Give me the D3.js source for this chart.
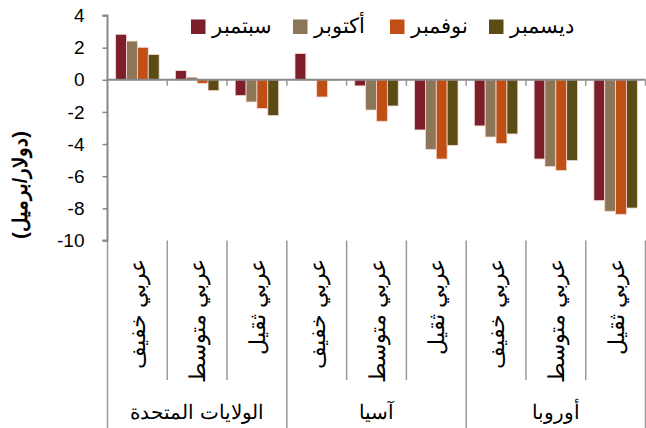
<!DOCTYPE html>
<html><head><meta charset="utf-8">
<script src="https://cdn.jsdelivr.net/npm/d3@7"></script>
<style>body{margin:0;background:#fff}svg{display:block}text{font-family:"Liberation Sans",Arial,sans-serif}</style>
</head><body><svg id="c" width="646" height="428"></svg>
<script>
const categories = ["عربي خفيف","عربي متوسط","عربي ثقيل","عربي خفيف","عربي متوسط","عربي ثقيل","عربي خفيف","عربي متوسط","عربي ثقيل"];
const regions = ["الولايات المتحدة","آسيا","أوروبا"];
const seriesNames = ["سبتمبر","أكتوبر","نوفمبر","ديسمبر"];
const sep = [2.83,0.57,-0.98,1.63,-0.38,-3.12,-2.87,-4.93,-7.52];
const oct = [2.41,0.16,-1.38,-0.05,-1.88,-4.33,-3.56,-5.40,-8.18];
const nov = [2.02,-0.22,-1.79,-1.07,-2.58,-4.93,-3.97,-5.65,-8.37];
const dec = [1.57,-0.67,-2.23,-0.05,-1.63,-4.08,-3.37,-5.03,-7.98];
const yTicks = [4,2,0,-2,-4,-6,-8,-10];
const colors = ["#7D1F2B","#8B7657","#C04F15","#5B4C16"];
const series = [sep,oct,nov,dec];

const svg = d3.select("#c");
const L = 107.5, R = 645.5, T = 15.5, B = 240.5;
const x = d3.scaleBand().domain(d3.range(categories.length)).range([L,R]);
const y = d3.scaleLinear().domain([-10,4]).range([B,T]);

const bw = x.bandwidth()/(4+1.5);
const g = svg.append("g");
series.forEach((s,si)=>{
  g.selectAll(null).data(s).enter().append("rect")
    .attr("x",(d,i)=>x(i)+bw*0.75+si*bw)
    .attr("width",bw)
    .attr("y",d=>Math.min(y(d),y(0)))
    .attr("height",d=>Math.abs(y(d)-y(0)))
    .attr("fill",colors[si])
    .attr("stroke","#f3d9d0").attr("stroke-width",0.8);
});

// y axis
const ya = d3.axisLeft(y).tickValues(yTicks).tickSize(5).tickPadding(18).tickFormat(d=>String(d));
const yg = svg.append("g").attr("transform",`translate(${L},0)`).call(ya);
yg.select(".domain").attr("stroke","#888").attr("stroke-width",2).attr("d",`M-5,${T}H0V${B}H-5`);
yg.selectAll(".tick line").attr("stroke","#888").attr("stroke-width",1.5);
yg.selectAll(".tick text").attr("font-size",19).attr("fill","#000").style("font-family","Liberation Sans, Arial, sans-serif");

// zero line
svg.append("line").attr("x1",L).attr("x2",R).attr("y1",y(0)).attr("y2",y(0)).attr("stroke","#888").attr("stroke-width",2);
d3.range(1,categories.length+1).forEach(i=>{
  const xx = i<categories.length ? x(i) : R;
  svg.append("line").attr("x1",xx).attr("x2",xx).attr("y1",y(0)).attr("y2",y(0)+6).attr("stroke","#999").attr("stroke-width",1.5);
});

// category separators
d3.range(0,categories.length+1).forEach(i=>{
  const xx = i<categories.length ? x(i) : R;
  const isGroup = i%3===0;
  svg.append("line").attr("x1",xx).attr("x2",xx).attr("y1",B).attr("y2",isGroup?428:380).attr("stroke","#999").attr("stroke-width",1.5);
});

// category labels
svg.selectAll(null).data(categories).enter().append("text")
  .attr("transform",(d,i)=>`translate(${x(i)+x.bandwidth()/2+8},259) rotate(-90)`)
  .attr("text-anchor","end")
  .attr("font-size",22).attr("fill","#000")
  .text(d=>d);

// region labels
svg.selectAll(null).data(regions).enter().append("text")
  .attr("x",(d,i)=>(x(i*3)+(i*3+3<categories.length?x(i*3+3):R))/2)
  .attr("y",419).attr("text-anchor","middle").attr("font-size",19.5).attr("fill","#000")
  .text(d=>d);

// y title
svg.append("text").attr("transform",`translate(27,185) rotate(-90)`).attr("text-anchor","middle")
  .attr("font-size",20).attr("font-weight","bold").attr("fill","#000").text("(دولار/برميل)");

// legend
const legX = [191,293,390,489];
seriesNames.forEach((n,i)=>{
  svg.append("rect").attr("x",legX[i]).attr("y",19.5).attr("width",14.5).attr("height",14.5).attr("fill",colors[i]);
  svg.append("text").attr("x",legX[i]+21).attr("y",33).attr("font-size",21).attr("fill","#000")
    .attr("text-anchor","start").style("direction","ltr").text(n);
});
</script></body></html>
